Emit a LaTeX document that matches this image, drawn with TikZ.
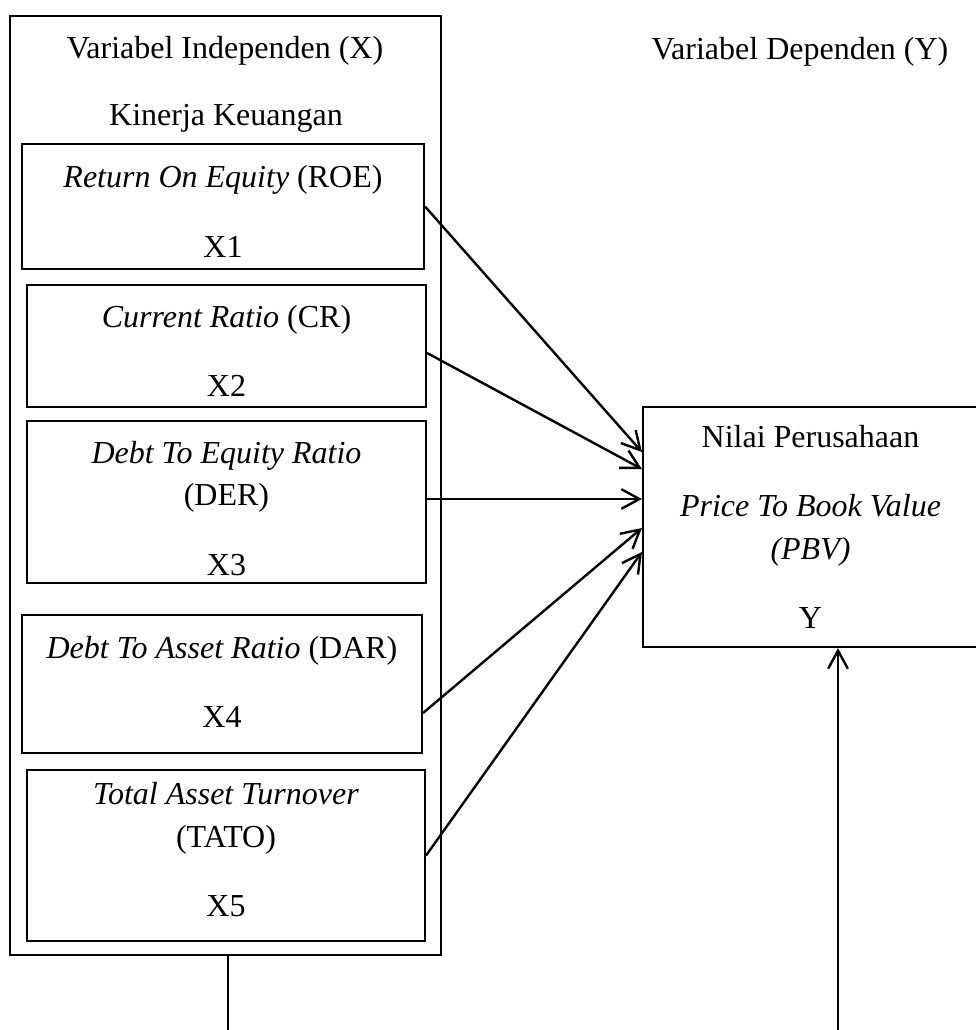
\documentclass[tikz,border=0pt]{standalone}
\usepackage{fontspec}
\setmainfont{Liberation Serif}
\usetikzlibrary{arrows.meta,calc}

\begin{document}
\begin{tikzpicture}[x=0.375pt,y=-0.375pt,
	every node/.style={font=\fontsize{12}{16}\selectfont},
	varbox/.style={draw,line width=0.8pt,align=center,inner sep=0pt},
	arr/.style={line width=0.9pt,-{Straight Barb[length=6.8pt,width=7.4pt]}}]
\def\px{0.375pt}
\useasboundingbox (0,0) rectangle (976,1030);
\node[varbox,minimum width=431*\px,minimum height=939*\px] (indep) at (225.5,485.5) {};
\node (titleX) at (225,51) {Variabel Independen (X)};
\node (kinerja) at (226,118) {Kinerja Keuangan};
\node (titleY) at (800,52) {Variabel Dependen (Y)};
\node[varbox,minimum width=402*\px,minimum height=125*\px] (roe) at (223,206.5)
	{\rule{0pt}{12pt}\textit{Return On Equity} (ROE)\\[10pt]X1};
\node[varbox,minimum width=399*\px,minimum height=122*\px] (cr) at (226.5,346)
	{\rule{0pt}{12pt}\textit{Current Ratio} (CR)\\[10pt]X2};
\node[varbox,minimum width=399*\px,minimum height=162*\px] (der) at (226.5,502)
	{\rule{0pt}{13pt}\textit{Debt To Equity Ratio}\\(DER)\\[10pt]X3};
\node[varbox,minimum width=400*\px,minimum height=138*\px] (dar) at (222,684)
	{\textit{Debt To Asset Ratio} (DAR)\\[10pt]X4\rule[-1.5pt]{0pt}{0pt}};
\node[varbox,minimum width=398*\px,minimum height=171*\px] (tato) at (226,855.5)
	{\textit{Total Asset Turnover}\\(TATO)\\[10pt]X5\rule[-4.5pt]{0pt}{0pt}};
\node[varbox,minimum width=335*\px,minimum height=240*\px] (pbv) at (810.5,527)
	{Nilai Perusahaan\\[10pt]\textit{Price To Book Value}\\\textit{(PBV)}\\[10pt]Y};
\foreach \b/\s/\t in {roe/0/-75,cr/7/-58,der/-3/-28,dar/29/1,tato/0/25}
	\draw[arr] ($(\b.east)+(0,\s)$) -- ($(pbv.west)+(0,\t)$);
\coordinate (lo) at (228,1030);
\coordinate (ro) at (838,1030);
\draw[line width=0.8pt] (lo |- indep.south) -- (lo);
\draw[arr] (ro) -- (ro |- pbv.south);
\end{tikzpicture}
\end{document}
